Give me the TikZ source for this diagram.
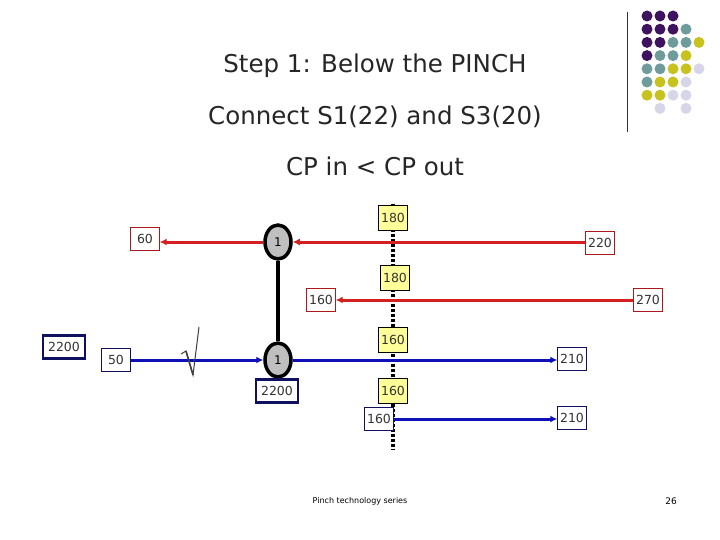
\documentclass[tikz,border=0pt]{standalone}
\usepackage{fontspec}
\setmainfont{DejaVu Sans}
\usetikzlibrary{arrows.meta,shapes.geometric}
\definecolor{pu}{HTML}{3F1260}\definecolor{te}{HTML}{6E9C9C}
\definecolor{ye}{HTML}{C8C21E}\definecolor{li}{HTML}{D6D6E8}
\definecolor{hr}{HTML}{D42020}\definecolor{cb}{HTML}{1010B8}
\definecolor{nv}{HTML}{101060}\definecolor{py}{HTML}{FFFF99}
\begin{document}
\begin{tikzpicture}[x=1pt,y=-1pt,
 title/.style={font=\fontsize{24.5}{26}\selectfont,text=black!85},
 lab/.style={draw,fill=white,inner sep=2pt,minimum height=23,font=\fontsize{12.5}{12}\selectfont,text=black!80},
 rb/.style={lab,draw=hr!80!black,minimum width=29},
 bb/.style={lab,draw=nv,minimum width=29},
 tb/.style={lab,draw=nv,line width=2.5pt,minimum width=42},
 yb/.style={lab,draw=black,fill=py,minimum width=29,minimum height=25},
 hx/.style={ellipse,draw=black,line width=3.5pt,fill=black!25,minimum width=26,minimum height=34,inner sep=0,font=\fontsize{12}{12}\selectfont},
 hot/.style={draw=hr,line width=3pt,-{Latex[length=7pt,width=7pt]}},
 cold/.style={draw=cb,line width=3pt,-{Latex[length=7pt,width=7pt]}},
 dot/.style={circle,inner sep=0,minimum size=11}]
\useasboundingbox (0,0) rectangle (720,540);
\fill[white] (0,0) rectangle (720,540);
\node[title] (t1) at (375,66) {Step 1: Below the PINCH};
\node[title] (t2) at (375,117) {Connect S1(22) and S3(20)};
\node[title] (t3) at (375,166) {CP in < CP out};
% logo
\coordinate (la) at (627,12); \coordinate (lb) at (627,132);
\draw[black!80,line width=0.8pt] (la) -- (lb);
\foreach \r/\row in {0/{pu,pu,pu,,},1/{pu,pu,pu,te,},2/{pu,pu,te,te,ye},3/{pu,te,te,ye,},4/{te,te,ye,ye,li},5/{te,ye,ye,li,},6/{ye,ye,li,li,},7/{,li,,li,}}{
  \foreach \c [count=\i from 0] in \row {
    \ifx\c\empty\else\node[dot,fill=\c] (d\r\i) at (647+13*\i,16+13.2*\r) {};\fi}}
% pinch
\coordinate (p1) at (393,204); \coordinate (p2) at (393,450);
\draw[black,line width=4pt,dash pattern=on 3pt off 2pt] (p1) -- (p2);
% hot streams
\node[rb] (h1s) at (600,243) {220};
\node[rb] (h1e) at (145,239) {60};
\node[rb] (h2s) at (648,300) {270};
\node[rb] (h2e) at (321,300) {160};
\node[hx] (e1) at (278,242) {1};
\node[hx] (e2) at (278,360) {1};
\draw[hot] (h1s.west |- e1) -- (e1.east);
\draw[hot] (e1.west) -- (h1e.east |- e1);
\draw[hot] (h2s.west) -- (h2e.east);
% cold streams
\node[bb] (c1s) at (116,360) {50};
\node[bb] (c1e) at (572,359) {210};
\node[bb] (c2s) at (379,419) {160};
\node[bb] (c2e) at (572,418) {210};
\draw[cold] (c1s.east) -- (e2.west);
\draw[cold] (e2.east) -- (c1e.west |- e2);
\draw[cold] (c2s.east) -- (c2e.west |- c2s);
\draw[black,line width=4pt] (e1.south) -- (e2.north);
\node[tb] (q1) at (277,391) {2200};
\node[tb] (q0) at (64,347) {2200};
% pinch temps
\node[yb] (y1) at (393,218) {180};
\node[yb] (y2) at (395,278) {180};
\node[yb] (y3) at (393,340) {160};
\node[yb] (y4) at (393,391) {160};
% check mark
\coordinate (k1) at (181,354); \coordinate (k2) at (186,351);
\coordinate (k3) at (193,375); \coordinate (k4) at (199,327);
\draw[black!75,line width=1pt,line join=miter] (k1) -- (k2) -- (k3) -- (k4);
\draw[black!75,line width=1.6pt] (k2) -- (k3);
\node[font=\fontsize{8}{8}\selectfont] (ft) at (360,501) {Pinch technology series};
\node[font=\fontsize{9}{9}\selectfont] (pg) at (671,501) {26};
\end{tikzpicture}
\end{document}
